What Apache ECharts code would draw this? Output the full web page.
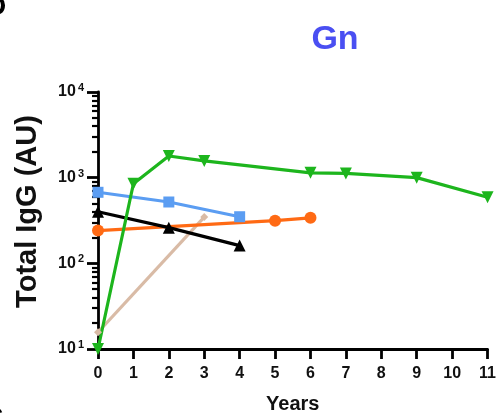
<!DOCTYPE html>
<html><head><meta charset="utf-8">
<script src="https://cdn.jsdelivr.net/npm/echarts@6/dist/echarts.min.js"></script>
<style>html,body{margin:0;padding:0;background:#fff}#c{width:499px;height:419px}</style>
</head><body><div id="c"></div>
<script>
var yearTicks = [0,1,2,3,4,5,6,7,8,9,10,11];
var greenX = [0,1,2,3,6,7,9,11];
var greenY = [10,850,1790,1570,1140,1120,1000,590];
var blueX = [0,2,4];
var blueY = [675,520,350];
var orangeX = [0,5,6];
var orangeY = [241,315,340];
var blackX = [0,2,4];
var blackY = [400,261,161];
var tanX = [0,3];
var tanY = [15.7,347];
var minorVals = [];
[1,2,3].forEach(function(e){for(var k=2;k<=9;k++){minorVals.push(e+Math.log10(k));}});

function pairs(xs, ys){return xs.map(function(x,i){return [x, ys[i]];});}
var FONT = 'Liberation Sans, Arial, sans-serif';
var chart = echarts.init(document.getElementById('c'));
function line(name, xs, ys, color, symbol, size, rot){
  return {name:name,type:'line',data:pairs(xs,ys),xAxisIndex:0,yAxisIndex:0,
    symbol:symbol,symbolSize:size,symbolRotate:rot||0,showSymbol:true,
    lineStyle:{color:color,width:3.2},itemStyle:{color:color},animation:false,z:3};
}
chart.setOption({
  animation:false,
  title:{text:'Gn',left:330,top:18,textAlign:'center',textStyle:{color:'#4a4ff2',fontSize:34,fontWeight:'bold',fontFamily:FONT}},
  graphic:[
    {type:'text',left:-14,top:-7,style:{text:'D',fontSize:28,fontWeight:'bold',fill:'#000',fontFamily:FONT}},
    {type:'text',left:-17,top:404,style:{text:'C',fontSize:28,fontWeight:'bold',fill:'#000',fontFamily:FONT}}
  ],
  grid:{left:98,right:9,top:92,bottom:66},
  xAxis:{type:'value',min:0,max:11,interval:1,
    axisLine:{lineStyle:{color:'#000',width:2.8}},
    axisTick:{show:true,length:10,lineStyle:{color:'#000',width:2.8}},
    axisLabel:{color:'#111',fontSize:16,fontWeight:'bold',fontFamily:FONT,margin:17,
      formatter:function(v){return yearTicks.indexOf(v)>=0?String(v):'';}},
    splitLine:{show:false},
    name:'Years',nameLocation:'middle',nameGap:45,
    nameTextStyle:{color:'#111',fontSize:20,fontWeight:'bold',fontFamily:FONT}},
  yAxis:[{type:'log',logBase:10,min:10,max:10000,
    axisLine:{show:true,lineStyle:{color:'#000',width:2.8}},
    axisTick:{show:true,length:11,lineStyle:{color:'#000',width:2.8}},
    splitLine:{show:false},
    axisLabel:{color:'#111',fontFamily:FONT,margin:14,
      formatter:function(v){return '{b|10}{s|'+Math.round(Math.log10(v))+'}';},
      rich:{b:{fontSize:16,fontWeight:'bold',fontFamily:FONT,color:'#111'},
            s:{fontSize:11,fontWeight:'bold',fontFamily:FONT,color:'#111',verticalAlign:'top',padding:[0,0,8,2]}}},
    name:'Total IgG (AU)',nameLocation:'middle',nameGap:56,nameRotate:90,
    nameTextStyle:{color:'#111',fontSize:29,fontWeight:'bold',fontFamily:FONT,padding:[0,0,0,18]}},
   {type:'value',min:1,max:4,position:'left',
    axisLine:{show:false},
    axisTick:{show:true,length:6,customValues:minorVals,lineStyle:{color:'#000',width:2.2}},
    axisLabel:{show:false},splitLine:{show:false}}],
  series:[
    line('tan',tanX,tanY,'#d9bba6','diamond',8),
    line('orange',orangeX,orangeY,'#ff6a14','circle',12),
    line('black',blackX,blackY,'#000000','triangle',12),
    line('blue',blueX,blueY,'#5b9df2','rect',11),
    line('green',greenX,greenY,'#1db51d','triangle',12,180)
  ]
});
</script></body></html>
